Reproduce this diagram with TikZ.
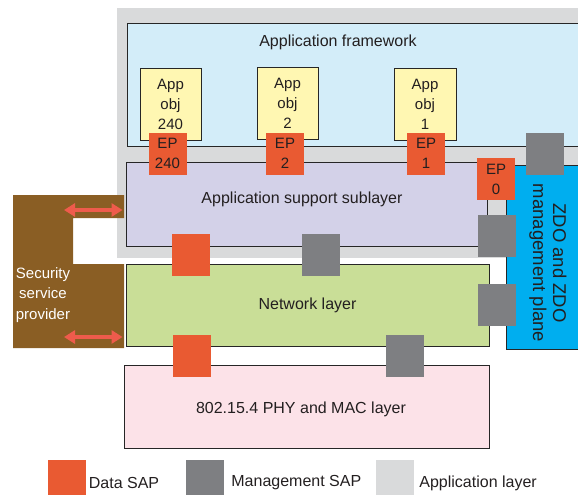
\documentclass[tikz,border=0pt]{standalone}
\usepackage{fontspec}
\setmainfont{Liberation Sans}
\usepackage{xcolor}
\usetikzlibrary{arrows.meta,positioning}

\definecolor{applayer}{HTML}{D9DADB}
\definecolor{framefill}{HTML}{D3EDF9}
\definecolor{objfill}{HTML}{FFF7B2}
\definecolor{datasap}{HTML}{E95A32}
\definecolor{mgmtsap}{HTML}{7E7F82}
\definecolor{apsfill}{HTML}{D3D1E8}
\definecolor{nwkfill}{HTML}{C9DE97}
\definecolor{phyfill}{HTML}{FCE2E8}
\definecolor{zdofill}{HTML}{00AEEF}
\definecolor{sspfill}{HTML}{8A5E24}
\definecolor{secred}{HTML}{EE5B4C}
\definecolor{txt}{HTML}{231F20}

\tikzset{
  layer/.style={draw=black!85, line width=0.9pt, inner sep=0pt},
  sap/.style={minimum width=38pt, minimum height=42pt, inner sep=0pt, align=center,
    font=\fontsize{15}{20}\selectfont},
  appobj/.style={layer, fill=objfill, minimum width=61pt, minimum height=72pt, align=center,
    font=\fontsize{15}{20}\selectfont},
  secarrow/.style={secred, line width=4pt, {Triangle[length=11pt,width=13pt]}-{Triangle[length=11pt,width=13pt]}},
  keytext/.style={inner xsep=1pt, yshift=-2.5pt}
}

\begin{document}
\begin{tikzpicture}[x=1pt,y=-1pt,font=\fontsize{16}{20}\selectfont,text=txt]

\useasboundingbox (0,0) rectangle (578,495);
\clip (0,0) rectangle (578,495);

\fill[applayer] (117,8) rectangle (590,258);

\node[layer, fill=framefill, minimum width=463pt, minimum height=123pt] (frame) at (358.5,84.5) {};
\node (frametext) at (338,42) {Application framework};

\node[appobj] (obj240) at (170.5,104) {App\\obj\\240};
\node[appobj] (obj2) at (287.5,103) {App\\obj\\2};
\node[appobj, minimum width=62pt] (obj1) at (425,104) {App\\obj\\1};

\node[layer, fill=apsfill, minimum width=361pt, minimum height=84pt] (aps) at (306.5,204) {};
\node (apstext) at (302,199) {Application support sublayer};
\node[layer, fill=nwkfill, minimum width=363pt, minimum height=82pt] (nwk) at (307.5,305) {Network layer};
\node[layer, fill=phyfill, minimum width=365pt, minimum height=83pt] (phy) at (306.5,406.5) {};
\node (phytext) at (301,409) {802.15.4 PHY and MAC layer};

\node[layer, fill=zdofill, minimum width=84pt, minimum height=184pt] (zdo) at (548,257) {};
\node[rotate=-90, align=center, font=\fontsize{18.5}{20}\selectfont] (zdotext) at (548,263)
  {ZDO and ZDO\\management plane};

\fill[sspfill] (13,195) -- (124,195) -- (124,218) -- (73,218) -- (73,264) -- (124,264)
  -- (124,348) -- (13,348) -- cycle;
\node[white, align=center, font=\fontsize{15}{20.5}\selectfont] (ssptext) at (43,295)
  {Security\\service\\provider};

\coordinate (sspA) at (64,210);
\coordinate (sspB) at (64,337);
\draw[secarrow, shorten >=3pt] (sspA) -- (sspA -| aps.west);
\draw[secarrow, shorten >=3pt] (sspB) -- (sspB -| nwk.west);

\node[sap, fill=datasap] (ep240) at (167.5,153.5) {EP\\240};
\node[sap, fill=datasap] (ep2) at (285,153.5) {EP\\2};
\node[sap, fill=datasap] (ep1) at (426,153.5) {EP\\1};
\node[sap, fill=datasap] (ep0) at (496,179) {EP\\0};
\node[sap, fill=mgmtsap] (zdoapp) at (544.5,153.5) {};
\node[sap, fill=mgmtsap] (zdoaps) at (496.5,235.5) {};
\node[sap, fill=mgmtsap] (zdonwk) at (497,304.5) {};
\node[sap, fill=datasap] (apsdata) at (191,255) {};
\node[sap, fill=mgmtsap] (apsmgmt) at (321,255) {};
\node[sap, fill=datasap] (nwkdata) at (192,355.5) {};
\node[sap, fill=mgmtsap] (nwkmgmt) at (405,355.5) {};

\node[sap, fill=datasap] (keydata) at (66.5,480.5) {};
\node[keytext, anchor=west, right=2pt of keydata] (keydatatext) {Data SAP};
\node[sap, fill=mgmtsap] (keymgmt) at (205,480.5) {};
\node[keytext, right=6pt of keymgmt] (keymgmttext) {Management SAP};
\node[sap, fill=applayer] (keyapp) at (395,480.5) {};
\node[keytext, right=4pt of keyapp] (keyapptext) {Application layer};

\end{tikzpicture}
\end{document}
